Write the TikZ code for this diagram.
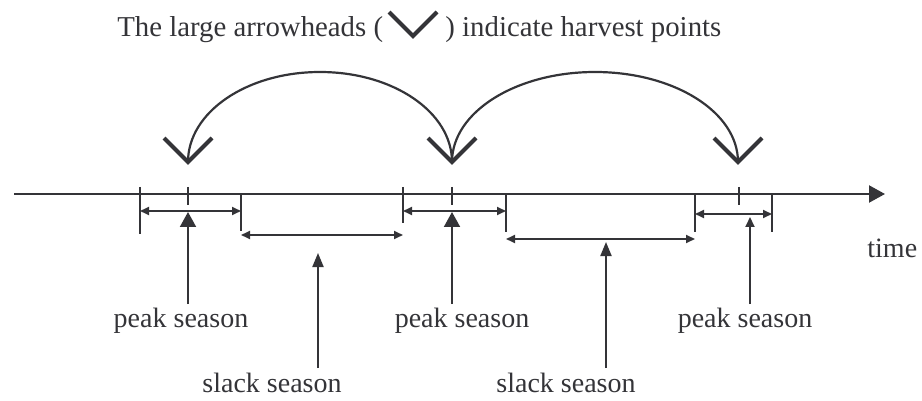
\documentclass[tikz,border=0pt]{standalone}
\usepackage{fontspec}
\setmainfont{Liberation Serif}
\usetikzlibrary{arrows.meta,calc}
\definecolor{ink}{RGB}{52,52,56}
\begin{document}
\begin{tikzpicture}[x=0.5pt,y=-0.5pt,
  every node/.style={text=ink, inner sep=2pt, font=\fontsize{14}{16}\selectfont},
  caption/.style={font=\fontsize{14.4}{16}\selectfont},
  axisline/.style={draw=ink, line width=1.1pt, -{Triangle[length=8pt,width=8.5pt]}},
  tickmark/.style={draw=ink, line width=1.1pt},
  span/.style={draw=ink, line width=0.9pt,
    {Triangle[length=4.5pt,width=4pt]}-{Triangle[length=4.5pt,width=4pt]}},
  bigpointer/.style={draw=ink, line width=1pt, -{Triangle[length=7.5pt,width=8pt]}},
  midpointer/.style={draw=ink, line width=1pt, -{Triangle[length=7pt,width=5.5pt]}},
  smallpointer/.style={draw=ink, line width=1pt, -{Triangle[length=5pt,width=4.5pt]}},
  harvestarc/.style={draw=ink, line width=1.1pt},
  harvestmark/.style={draw=ink, line width=2pt, line cap=butt},
]
\useasboundingbox (0,0) rectangle (922,401);

% caption with the harvest symbol
\node[caption, anchor=base west] (capL) at (113,37) {The large arrowheads (};
\node[caption, anchor=base west] (capR) at (441,37) {) indicate harvest points};
\coordinate (capV) at (413,36);
\draw[harvestmark] ($(capV)+(-24,-24)$) -- (capV) -- ($(capV)+(24,-24)$);

% time axis
\coordinate (axL) at (14,194);
\coordinate (axR) at (885,194);
\draw[axisline] (axL) -- (axR);
\node[anchor=base west] (time) at (863,257) {time};

% period boundaries
\foreach \n/\x/\ya/\yb in {a1/140/187/234, a2/241/194/231, a3/403/187/223,
                           a4/506/194/232, a5/695/194/232, a6/772/194/232} {
  \coordinate (\n t) at (\x,\ya);
  \coordinate (\n b) at (\x,\yb);
  \draw[tickmark] (\n t) -- (\n b);
}
% harvest ticks
\foreach \n/\x in {c1/188, c2/452, c3/739} {
  \coordinate (\n t) at (\x,187);
  \coordinate (\n b) at (\x,205);
  \draw[tickmark] (\n t) -- (\n b);
}

% season spans
\draw[span] (a1t |- 0,211) -- (a2t |- 0,211);
\draw[span] (a2t |- 0,235) -- (a3t |- 0,235);
\draw[span] (a3t |- 0,211) -- (a4t |- 0,211);
\draw[span] (a4t |- 0,239) -- (a5t |- 0,239);
\draw[span] (a5t |- 0,214) -- (a6t |- 0,214);

% labels
\node[anchor=base] (ps1) at (181,328) {peak season};
\node[anchor=base] (ps2) at (462,328) {peak season};
\node[anchor=base] (ps3) at (745,328) {peak season};
\node[anchor=base] (ss1) at (272,392) {slack season};
\node[anchor=base] (ss2) at (566,392) {slack season};

\coordinate (p1) at (188,212);
\coordinate (p2) at (452,212);
\coordinate (p3) at (750,217);
\coordinate (s1) at (318,253);
\coordinate (s2) at (606,242);

\draw[bigpointer] (p1 |- ps1.north) -- (p1);
\draw[bigpointer] (p2 |- ps2.north) -- (p2);
\draw[smallpointer] (p3 |- ps3.north) -- (p3);
\draw[midpointer] (s1 |- ss1.north) -- (s1);
\draw[midpointer] (s2 |- ss2.north) -- (s2);

% harvest points and the elliptic arcs linking them
\coordinate (h1) at (188,162);
\coordinate (h2) at (452,162);
\coordinate (h3) at (738,162);
\coordinate (top1) at ($($(h1)!0.5!(h2)$)+(0,-90)$);
\coordinate (top2) at ($($(h2)!0.5!(h3)$)+(0,-90)$);
\foreach \h in {h1,h2,h3}
  \draw[harvestmark] ($(\h)+(-24,-24)$) -- (\h) -- ($(\h)+(24,-24)$);
\draw[harvestarc] (h2) .. controls +(0,-50) and +(73,0) .. (top1)
                       .. controls +(-73,0) and +(0,-50) .. (h1);
\draw[harvestarc] (h2) .. controls +(0,-50) and +(-79,0) .. (top2)
                       .. controls +(79,0) and +(0,-50) .. (h3);
\end{tikzpicture}
\end{document}
